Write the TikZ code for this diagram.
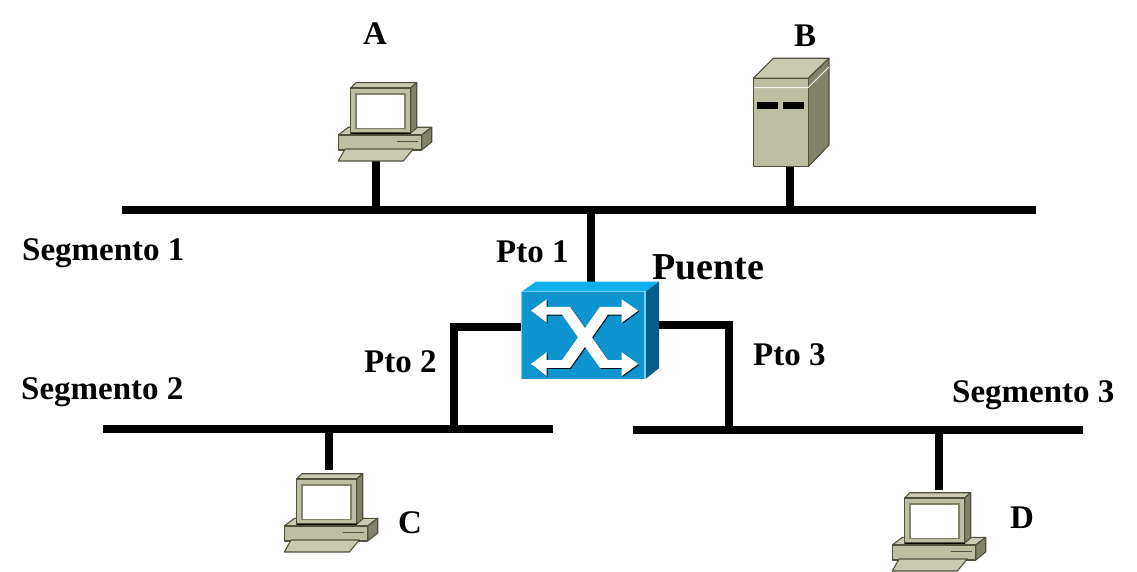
\documentclass[tikz,border=0pt]{standalone}
\usepackage{fontspec}
\setmainfont{Liberation Serif}
\usetikzlibrary{calc}
\definecolor{bgr}{HTML}{BEBEA4}
\definecolor{btop}{HTML}{CACAB2}
\definecolor{bside}{HTML}{82826A}
\definecolor{bedge}{HTML}{50503F}
\definecolor{sw}{HTML}{0E94CE}
\definecolor{swtop}{HTML}{10B0EE}
\definecolor{swside}{HTML}{045E88}
\tikzset{
  x=1pt,y=-1pt,
  wire/.style={draw=black,line width=7.6pt,line cap=butt,line join=miter},
  lbl/.style={font=\fontsize{33}{33}\selectfont\bfseries,inner sep=0pt,anchor=base west,text=black},
  lblb/.style={font=\fontsize{38}{38}\selectfont\bfseries,inner sep=0pt,anchor=base west,text=black},
  body/.style={fill=bgr,draw=bedge,line width=1.1pt,line join=round},
  bodytop/.style={fill=btop,draw=bedge,line width=1.1pt,line join=round},
  bodyside/.style={fill=bside,draw=bedge,line width=1.1pt,line join=round},
  pics/pc/.style={code={
    \path[bodytop] (10.3,45.3)--(93.7,45.3)--(83.7,53)--(0.3,53)--cycle;
    \path[bodyside] (83.7,53)--(93.7,45.3)--(93.7,60)--(83.7,68)--cycle;
    \path[body] (0.3,53)--(83.7,53)--(83.7,68)--(0.3,68)--cycle;
    \draw[bedge,line width=1.3pt] (59,59.7)--(80,59.7);
    \path[bodytop] (7,67)--(75.3,67)--(65.3,79)--(0.3,79)--cycle;
    \path[bodytop] (12.7,6)--(18,0.7)--(78.7,0.7)--(72.7,6)--cycle;
    \path[bodyside] (72.7,6)--(78.7,0.7)--(78.7,46)--(72.7,51)--cycle;
    \path[body] (12.7,6) rectangle (72.7,51);
    \draw[black,line width=1.2pt] (12.7,51.5)--(72.7,51.5);
    \path[fill=white,draw=bside,line width=1.3pt] (18,12) rectangle (67,46.3);
  }}
}
\begin{document}
\begin{tikzpicture}
\useasboundingbox (0,0) rectangle (1137,572);
\coordinate (s1l) at (122,210); \coordinate (s1r) at (1036,210);
\coordinate (s2l) at (103,429); \coordinate (s2r) at (553,429);
\coordinate (s3l) at (633,430); \coordinate (s3r) at (1083,430);
\coordinate (ja) at (376,210); \coordinate (jb) at (790,210);
\coordinate (jp) at (591,210); \coordinate (jc) at (329,429);
\coordinate (jd) at (939,430); \coordinate (j2) at (454,429);
\coordinate (j3) at (729,430);
\coordinate (pa) at (376,160); \coordinate (pb) at (790,165);
\coordinate (pc) at (329,470); \coordinate (pd) at (939,490);
\coordinate (sp1) at (591,283); \coordinate (sp2) at (523,327); \coordinate (sp3) at (657,325);
\draw[wire] (s1l)--(s1r);
\draw[wire] (s2l)--(s2r);
\draw[wire] (s3l)--(s3r);
\draw[wire] (pa)--(ja);
\draw[wire] (pb)--(jb);
\draw[wire] (jp)--(sp1);
\draw[wire] (pc)--(jc);
\draw[wire] (pd)--(jd);
\draw[wire] (sp2)-|(j2);
\draw[wire] (sp3)-|(j3);
\pic at (338,82) {pc};
\pic at (284,473) {pc};
\pic at (892,492) {pc};
% server
\path[bodytop] (753.3,78.3)--(773.3,58.3)--(829,58.3)--(808.3,78.3)--cycle;
\path[bodyside] (808.3,78.3)--(829,58.3)--(829,145)--(808.3,166.7)--cycle;
\path[body] (753.3,78.3) rectangle (808.3,166.7);
\draw[white!85!bgr,line width=1pt] (754,87.7)--(808,87.7)--(829,67);
\fill[black] (757.3,102.3) rectangle (778.3,109);
\fill[black] (783.3,102.3) rectangle (803.7,109);
% switch
\fill[swtop] (521.7,291.7)--(535.7,281.7)--(659,281.7)--(645,291.7)--cycle;
\fill[swside] (645,291.7)--(659,281.7)--(659,368.3)--(645,379.3)--cycle;
\fill[sw] (521.7,291.7) rectangle (645,379.3);
\draw[swtop!60!white,line width=1.2pt] (521.7,379.3)--(521.7,291.7)--(645,291.7)--(645,379.3);
\foreach \c/\o in {black!90!sw/.9,white/0}{
  \begin{scope}[shift={(\o,\o)}]
  \fill[\c] (546,306.8)--(570,306.8)--(585,328)--(600,306.8)--(622,306.8)--(622,314.6)--(608,314.6)--(592,337.4)--(608,360.1)--(622,360.1)--(622,367.9)--(600,367.9)--(585,346.8)--(570,367.9)--(546,367.9)--(546,360.1)--(562,360.1)--(578,337.4)--(562,314.6)--(546,314.6)--cycle;
  \fill[\c] (531,310.7)--(546.7,299.3)--(546.7,322.7)--cycle;
  \fill[\c] (531,364)--(546.7,352.3)--(546.7,376)--cycle;
  \fill[\c] (638.3,310.7)--(621.7,299.3)--(621.7,322.7)--cycle;
  \fill[\c] (638.3,364)--(621.7,352.3)--(621.7,376)--cycle;
  \end{scope}
}
% labels
\node[lbl] at (363,45) {A};
\node[lbl] at (794,47) {B};
\node[lbl] at (398,533) {C};
\node[lbl] at (1010,528) {D};
\node[lbl] at (22,260) {Segmento 1};
\node[lbl] at (21,399) {Segmento 2};
\node[lbl] at (952,402) {Segmento 3};
\node[lbl] at (496,262) {Pto 1};
\node[lbl] at (364,372) {Pto 2};
\node[lbl] at (753,365) {Pto 3};
\node[lblb] at (652,279) {Puente};
\end{tikzpicture}
\end{document}
